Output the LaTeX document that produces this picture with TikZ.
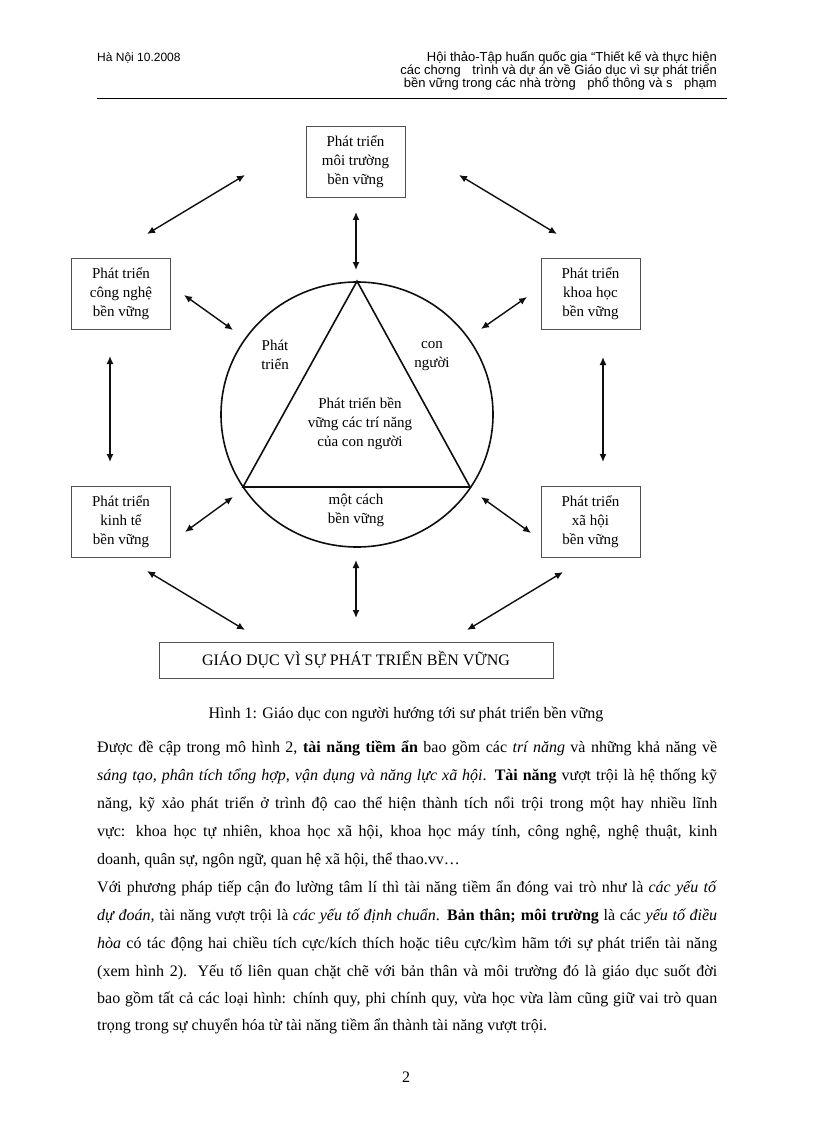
\documentclass[tikz,border=0pt]{standalone}
\usepackage{fontspec}
\setmainfont{Liberation Serif}
\newfontfamily\hdfont{Liberation Sans}
\usetikzlibrary{arrows.meta,positioning,shapes.geometric}
\definecolor{ink}{RGB}{15,15,15}
\definecolor{frame}{RGB}{80,80,80}
\newcommand\lw{620pt}
\tikzset{
  goal/.style={draw=frame,line width=0.8pt,minimum width=99pt,minimum height=71pt,
    inner sep=2pt,align=center,font=\fontsize{15}{19}\selectfont},
  arr/.style={{Latex[length=8pt,width=7pt]}-{Latex[length=8pt,width=7pt]},line width=1.4pt,ink},
  ring/.style={ellipse,draw=ink,line width=1.6pt,minimum width=272pt,minimum height=265pt,inner sep=0pt},
  lbl/.style={align=center,font=\fontsize{15}{19}\selectfont,inner sep=0pt},
  hd/.style={font=\hdfont\fontsize{13}{13}\selectfont,inner sep=0pt},
  body/.style={anchor=base west,inner sep=0pt,font=\fontsize{16}{20}\selectfont},
}
\begin{document}
\begin{tikzpicture}[x=1pt,y=-1pt]
\fill[white] (0,0) rectangle (816,1123);
% header
\node[hd,anchor=base west,font=\hdfont\fontsize{12}{13}\selectfont] (hl) at (97,62) {Hà Nội 10.2008};
\node[hd,anchor=base east] (h1) at (717,62) {Hội thảo-Tập huấn quốc gia “Thiết kế và thực hiện};
\node[hd,anchor=base east] (h2) at (717,75) {các chơng\hspace{8pt} trình và dự án về Giáo dục vì sự phát triển};
\node[hd,anchor=base east] (h3) at (717,88) {bền vững trong các nhà trờng\hspace{8pt} phổ thông và s\hspace{8pt} phạm};
\draw[line width=0.9pt] (97,98) -- (727,98);
% boxes round the ring
\node[goal] (mt) at (355.5,162) {Phát triển\\môi trường\\bền vững};
\node[goal] (cn) at (121,294) {Phát triển\\công nghệ\\bền vững};
\node[goal] (kh) at (590.5,294) {Phát triển\\khoa học\\bền vững};
\node[goal] (kt) at (121,522) {Phát triển\\kinh tế\\bền vững};
\node[goal] (xh) at (590.5,522) {Phát triển\\xã hội\\bền vững};
\node[goal,minimum width=394pt,minimum height=36pt,font=\fontsize{16}{19}\selectfont]
  (gd) at (356,660) {GIÁO DỤC VÌ SỰ PHÁT TRIỂN BỀN VỮNG};
% ring and triangle
\node[ring] (circ) at (357,414.5) {};
\coordinate (tl) at (243,487);
\coordinate (tr) at (470,487);
\draw[ink,line width=1.6pt,line join=miter] (circ.north) -- (tl) -- (tr) -- cycle;
\node[lbl] (lp) at (275,355) {Phát\\triển};
\node[lbl] (lc) at (432,356) {con\\người};
\node[lbl] (lm) at (360,424) {Phát triển bền\\vững các trí năng\\của con người};
\node[lbl] (lb) at (356,510) {một cách\\bền vững};
% two-way arrows
\foreach \nm/\p/\q in {a/{356,212}/{356,270}, b/{147,234}/{245,175}, c/{459,175}/{557,234},
  d/{184,295}/{233,330}, e/{481,329}/{527,297}, f/{110,356}/{110,462}, g/{603,357}/{603,462},
  h/{185,532}/{233,497}, i/{481,497}/{531,533}, j/{147,571}/{245,630}, k/{467,630}/{563,572},
  l/{356,560}/{356,618}}{
  \coordinate (\nm1) at (\p);
  \coordinate (\nm2) at (\q);
  \draw[arr] (\nm1) -- (\nm2);
}
\node[anchor=base,font=\fontsize{16}{19}\selectfont] (cap) at (406,718)
  {Hình 1: Giáo dục con người hướng tới sư phát triển bền vững};
% text below
\node[body] (p1) at (97,752) {\makebox[\lw][s]{Được đề cập trong mô hình 2, \textbf{tài năng tiềm ẩn} bao gồm các \textit{trí năng} và những khả năng về}};
\node[body] (p2) at (97,780) {\makebox[\lw][s]{\textit{sáng tạo, phân tích tổng hợp, vận dụng và năng lực xã hội}. \textbf{Tài năng} vượt trội là hệ thống kỹ}};
\node[body] (p3) at (97,808) {\makebox[\lw][s]{năng, kỹ xảo phát triển ở trình độ cao thể hiện thành tích nổi trội trong một hay nhiều lĩnh}};
\node[body] (p4) at (97,836) {\makebox[\lw][s]{vực: khoa học tự nhiên, khoa học xã hội, khoa học máy tính, công nghệ, nghệ thuật, kinh}};
\node[body] (p5) at (97,864) {doanh, quân sự, ngôn ngữ, quan hệ xã hội, thể thao.vv…};
\node[body] (p6) at (97,892) {\makebox[\lw][s]{Với phương pháp tiếp cận đo lường tâm lí thì tài năng tiềm ẩn đóng vai trò như là \textit{các yếu tố}}};
\node[body] (p7) at (97,920) {\makebox[\lw][s]{\textit{dự đoán,} tài năng vượt trội là \textit{các yếu tố định chuẩn}. \textbf{Bản thân; môi trường} là các \textit{yếu tố điều}}};
\node[body] (p8) at (97,948) {\makebox[\lw][s]{\textit{hòa} có tác động hai chiều tích cực/kích thích hoặc tiêu cực/kìm hãm tới sự phát triển tài năng}};
\node[body] (p9) at (97,976) {\makebox[\lw][s]{(xem hình 2). Yếu tố liên quan chặt chẽ với bản thân và môi trường đó là giáo dục suốt đời}};
\node[body] (p10) at (97,1003) {\makebox[\lw][s]{bao gồm tất cả các loại hình: chính quy, phi chính quy, vừa học vừa làm cũng giữ vai trò quan}};
\node[body] (p11) at (97,1030) {trọng trong sự chuyển hóa từ tài năng tiềm ẩn thành tài năng vượt trội.};
\node[anchor=base,font=\fontsize{16}{20}\selectfont] (pg) at (406,1082) {2};
\end{tikzpicture}
\end{document}
